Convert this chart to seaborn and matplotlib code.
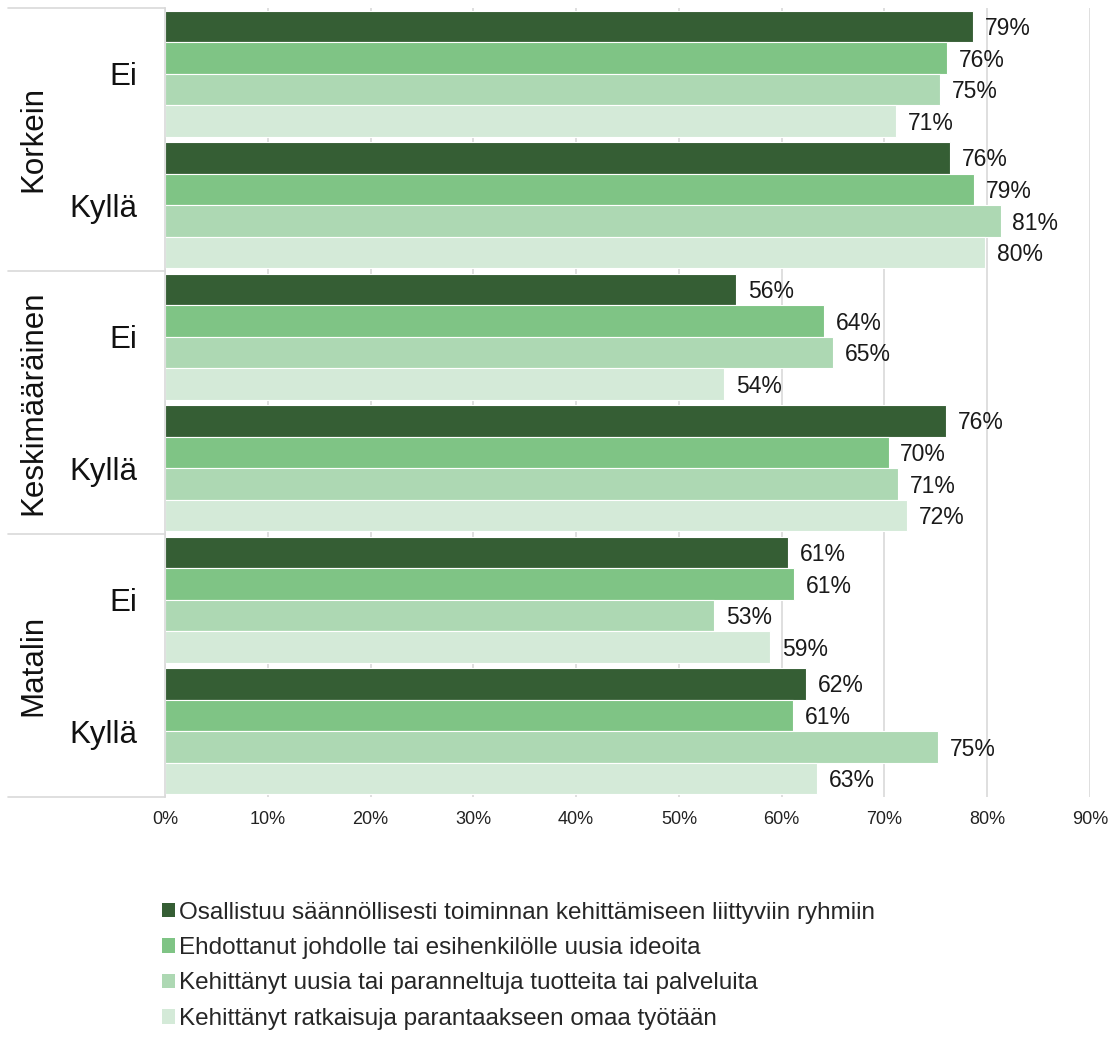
import matplotlib
matplotlib.use("Agg")
import matplotlib.pyplot as plt
import matplotlib.patches as mpatches
import matplotlib.transforms as mtransforms
import seaborn as sns
import pandas as pd

groups = ["Korkein", "Keskimääräinen", "Matalin"]
subgroups = ["Ei", "Kyllä"]
series = [
    "Osallistuu säännöllisesti toiminnan kehittämiseen liittyviin ryhmiin",
    "Ehdottanut johdolle tai esihenkilölle uusia ideoita",
    "Kehittänyt uusia tai paranneltuja tuotteita tai palveluita",
    "Kehittänyt ratkaisuja parantaakseen omaa työtään",
]
# values per series, in order: Korkein Ei, Korkein Kyllä, Kesk Ei, Kesk Kyllä, Matalin Ei, Matalin Kyllä
s1 = [78.6, 76.4, 55.6, 76.0, 60.6, 62.4]
s2 = [76.1, 78.7, 64.1, 70.4, 61.2, 61.1]
s3 = [75.4, 81.3, 65.0, 71.3, 53.4, 75.2]
s4 = [71.1, 79.8, 54.4, 72.2, 58.9, 63.4]
xticks = [0, 10, 20, 30, 40, 50, 60, 70, 80, 90]

colors = ["#355E34", "#7FC485", "#ADD8B3", "#D4EAD8"]

cats = [f"{g}|{s}" for g in groups for s in subgroups]
rows = []
for name, vals in zip(series, [s1, s2, s3, s4]):
    for c, v in zip(cats, vals):
        rows.append({"cat": c, "series": name, "value": v})
df = pd.DataFrame(rows)

sns.set_theme(style="white")
plt.rcParams["font.family"] = ["Liberation Sans", "DejaVu Sans"]

fig = plt.figure(figsize=(11.14, 10.5), dpi=100)
ax = fig.add_axes([165 / 1114, 1 - 797 / 1050, 925 / 1114, 789 / 1050])

sns.barplot(data=df, y="cat", x="value", hue="series", order=cats,
            hue_order=series, palette=colors, orient="h", width=0.96,
            saturation=1, edgecolor="white", linewidth=0.8, ax=ax, legend=False)

for cont in ax.containers:
    texts = ax.bar_label(cont, labels=[f"{v:.0f}%" for v in cont.datavalues],
                         padding=8.5, fontsize=16.5, color="#1a1a1a")
    for t in texts:
        t.xyann = (t.xyann[0], -1.5)

ax.set_xlim(0, 90)
ax.set_ylim(5.5, -0.5)
ax.set_xticks(xticks)
ax.set_xticklabels([f"{t}%" for t in xticks], fontsize=13, color="#222222")
ax.set_yticks(range(len(cats)))
ax.set_yticklabels([c.split("|")[1] for c in cats], fontsize=22.5, color="#111111")
ax.tick_params(axis="y", length=0, pad=20)
ax.tick_params(axis="x", length=0, pad=10)
ax.set_xlabel("")
ax.set_ylabel("")
ax.grid(axis="x", color="#D9D9D9", linewidth=1.2)
ax.set_axisbelow(True)
for side in ["top", "right", "bottom"]:
    ax.spines[side].set_visible(False)
ax.spines["left"].set_color("#D9D9D9")
ax.spines["left"].set_linewidth(1.2)

trans = mtransforms.blended_transform_factory(ax.transAxes, ax.transData)
x0 = (8 - 165) / 925
for yb in [-0.5, 1.5, 3.5, 5.5]:
    ax.plot([x0, 0], [yb, yb], transform=trans, color="#D9D9D9",
            linewidth=1.2, clip_on=False)
for i, g in enumerate(groups):
    ax.text((33 - 165) / 925, 2 * i + 0.5, g, transform=trans, rotation=90,
            ha="center", va="center", fontsize=22.5, color="#111111")

handles = [mpatches.Patch(facecolor=c, edgecolor="none") for c in colors]
fig.legend(handles, series, loc="upper left", bbox_to_anchor=(152 / 1114, 1 - 892 / 1050),
           frameon=False, fontsize=17.5, handlelength=0.55, handleheight=0.55,
           handletextpad=0.15, labelspacing=0.55, borderaxespad=0)

fig.savefig("out.png", dpi=100)
